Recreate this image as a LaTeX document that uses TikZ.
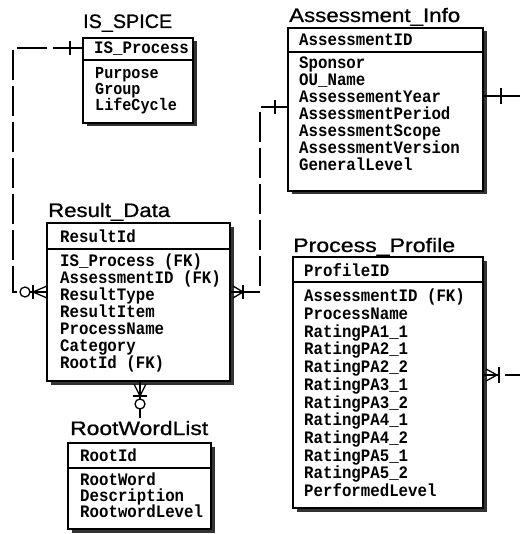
\documentclass[tikz,border=0pt]{standalone}
\usepackage{fontspec}
\setmainfont{Liberation Sans}
\newfontfamily\ttlfont{Liberation Sans}[FakeBold=0.8]
\newfontfamily\rowfont{Liberation Mono}[FakeStretch=0.9]
\usetikzlibrary{calc,shadows}
\newcommand\ttl[2]{\resizebox{#1}{\height}{#2}}
\lineskiplimit=-20pt
\begin{document}
\begin{tikzpicture}[x=1pt,y=-1pt,
  tbl/.style={draw=black, line width=1.4pt, fill=white, inner sep=0pt, outer sep=0pt,
    anchor=north west,
    drop shadow={shadow xshift=3.5pt, shadow yshift=-3.5pt, fill=black!80, opacity=1}},
  title/.style={anchor=base west, inner sep=0pt, font=\ttlfont\fontsize{19.5}{19.5}\selectfont},
  hdr/.style={anchor=west, inner sep=0pt, font=\rowfont\bfseries\fontsize{17.5}{17}\selectfont},
  rows/.style={anchor=north west, inner sep=0pt, align=left,
    font=\rowfont\bfseries\fontsize{17.5}{#1}\selectfont},
  rel/.style={line width=1.3pt, dash pattern=on 30pt off 6pt},
  sym/.style={line width=1.3pt}]
\useasboundingbox (0,0) rectangle (520,534);
\fill[white] (0,0) rectangle (520,534);

% IS_SPICE
\node[tbl, minimum width=110pt, minimum height=85pt] (sp) at (83,38) {};
\draw[line width=1.3pt] ($(sp.north west)+(0,22)$) -- ($(sp.north east)+(0,22)$);
\node[title] (spT) at (83,28) {\ttl{89pt}{IS\_SPICE}};
\node[hdr] (spH) at ($(sp.north west)+(11,11)$) {IS\_Process};
\node[rows=16, font=\rowfont\bfseries\fontsize{16.8}{16}\selectfont] (spR) at ($(sp.north west)+(12,29)$) {Purpose\\Group\\LifeCycle};

% Assessment_Info
\node[tbl, minimum width=195pt, minimum height=163pt] (ai) at (288,28) {};
\draw[line width=1.3pt] ($(ai.north west)+(0,24)$) -- ($(ai.north east)+(0,24)$);
\node[title] (aiT) at (289,22) {\ttl{171pt}{Assessment\_Info}};
\node[hdr] (aiH) at ($(ai.north west)+(11,12)$) {AssessmentID};
\node[rows=17] (aiR) at ($(ai.north west)+(11,29)$) {Sponsor\\OU\_Name\\AssessementYear\\AssessmentPeriod\\AssessmentScope\\AssessmentVersion\\GeneralLevel};

% Result_Data
\node[tbl, minimum width=183pt, minimum height=158pt] (rd) at (47,223) {};
\draw[line width=1.3pt] ($(rd.north west)+(0,26)$) -- ($(rd.north east)+(0,26)$);
\node[title] (rdT) at (48,217) {\ttl{122pt}{Result\_Data}};
\node[hdr] (rdH) at ($(rd.north west)+(13,13)$) {ResultId};
\node[rows=17] (rdR) at ($(rd.north west)+(13,31)$) {IS\_Process (FK)\\AssessmentID (FK)\\ResultType\\ResultItem\\ProcessName\\Category\\RootId (FK)};

% RootWordList
\node[tbl, minimum width=143pt, minimum height=86pt] (rw) at (68,443) {};
\draw[line width=1.3pt] ($(rw.north west)+(0,25)$) -- ($(rw.north east)+(0,25)$);
\node[title] (rwT) at (70,435) {\ttl{138pt}{RootWordList}};
\node[hdr] (rwH) at ($(rw.north west)+(12,12)$) {RootId};
\node[rows=16] (rwR) at ($(rw.north west)+(12,30)$) {RootWord\\Description\\RootwordLevel};

% Process_Profile
\node[tbl, minimum width=190pt, minimum height=251pt] (pp) at (293,257) {};
\draw[line width=1.3pt] ($(pp.north west)+(0,25)$) -- ($(pp.north east)+(0,25)$);
\node[title] (ppT) at (293,252) {\ttl{162pt}{Process\_Profile}};
\node[hdr] (ppH) at ($(pp.north west)+(11,13)$) {ProfileID};
\node[rows=17.7] (ppR) at ($(pp.north west)+(11,32)$) {AssessmentID (FK)\\ProcessName\\RatingPA1\_1\\RatingPA2\_1\\RatingPA2\_2\\RatingPA3\_1\\RatingPA3\_2\\RatingPA4\_1\\RatingPA4\_2\\RatingPA5\_1\\RatingPA5\_2\\PerformedLevel};

% connector IS_SPICE -- Result_Data
\coordinate (spL) at ($(sp.north west)+(0,10)$);
\coordinate (rdL) at ($(rd.north west)+(0,69)$);
\draw[rel] (spL) -- ++(-70,0) |- (rdL);
\draw[sym] ($(spL)+(-13,-7)$) -- ++(0,14);
\draw[sym] ($(rdL)+(-14,-7)$) -- ++(0,14);
\draw[sym] ($(rdL)+(-14,0)$) -- ($(rdL)+(0,-6)$);
\draw[sym] ($(rdL)+(-14,0)$) -- ($(rdL)+(0,6)$);
\draw[sym, fill=white] ($(rdL)+(-22,0)$) circle (5pt);

% connector Result_Data -- Assessment_Info
\coordinate (rdE) at ($(rd.north east)+(0,69)$);
\coordinate (aiL) at ($(ai.north west)+(0,79)$);
\draw[rel] (rdE) -- ++(30,0) |- (aiL);
\draw[sym] ($(rdE)+(13,-7)$) -- ++(0,14);
\draw[sym] ($(rdE)+(13,0)$) -- ($(rdE)+(3,-6)$);
\draw[sym] ($(rdE)+(13,0)$) -- ($(rdE)+(3,6)$);
\draw[sym] ($(aiL)+(-13,-7)$) -- ++(0,14);

% connector Result_Data -- RootWordList
\coordinate (rdB) at ($(rd.south west)+(93,0)$);
\coordinate (rwTop) at ($(rw.north west)+(72,-25)$);
\draw[sym] (rdB) -- (rwTop);
\draw[sym] ($(rdB)+(0,15)$) -- ($(rdB)+(-6,3)$);
\draw[sym] ($(rdB)+(0,15)$) -- ($(rdB)+(6,3)$);
\draw[sym] ($(rdB)+(-7,15)$) -- ++(14,0);
\draw[sym, fill=white] ($(rdB)+(0,23)$) circle (5pt);

% connector Assessment_Info -- right
\coordinate (aiE) at ($(ai.north east)+(0,68)$);
\coordinate (aiOut) at (520,96);
\draw[sym] (aiE) -- (aiOut);
\draw[sym] ($(aiE)+(18,-8)$) -- ++(0,16);

% connector Process_Profile -- right
\coordinate (ppE) at ($(pp.north east)+(0,118)$);
\coordinate (ppOut) at (520,375);
\draw[sym] (ppE) -- ($(ppE)+(16,0)$);
\draw[sym] ($(ppE)+(22,0)$) -- (ppOut);
\draw[sym] ($(ppE)+(16,-8)$) -- ++(0,16);
\draw[sym] ($(ppE)+(14,0)$) -- ($(ppE)+(3,-6)$);
\draw[sym] ($(ppE)+(14,0)$) -- ($(ppE)+(3,6)$);
\end{tikzpicture}
\end{document}
